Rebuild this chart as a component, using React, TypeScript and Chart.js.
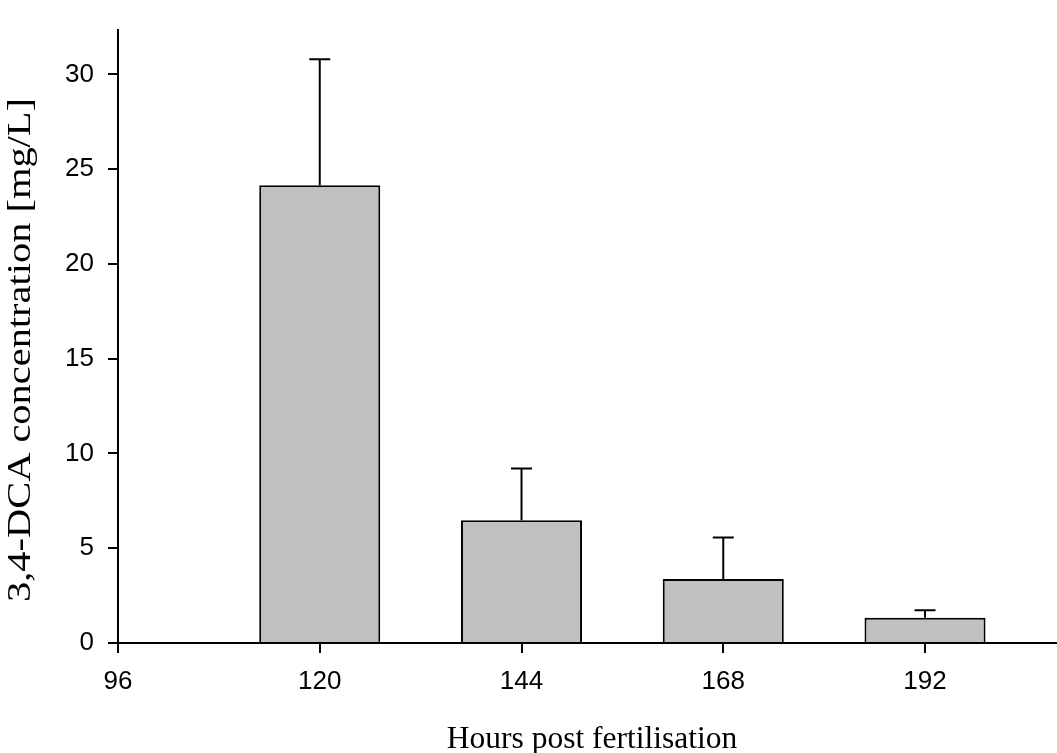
import React, { useEffect, useRef } from "react";
import { Chart, registerables } from "chart.js";

Chart.register(...registerables);

// Sampling times (hours post fertilisation) and measured concentrations
const hours = [120, 144, 168, 192];
const meanConc = [24.15, 6.47, 3.38, 1.33];
const sdConc = [6.64, 2.73, 2.19, 0.4];

const xTickValues = [96, 120, 144, 168, 192];
const yTickValues = [0, 5, 10, 15, 20, 25, 30];

const xTitle = "Hours post fertilisation";
const yTitle = "3,4-DCA concentration [mg/L]";

const SANS = "'Liberation Sans', Arial, sans-serif";
const SERIF = "'Liberation Serif', 'Times New Roman', serif";

// Upward-only error bars with a short cap
const errorBarPlugin = {
  id: "errorBars",
  afterDatasetsDraw(chart: any) {
    const { ctx, scales } = chart;
    const xs = scales.x;
    const ys = scales.y;
    ctx.save();
    ctx.strokeStyle = "#000";
    ctx.lineWidth = 2;
    hours.forEach((h, i) => {
      const x = xs.getPixelForValue(h);
      const y0 = ys.getPixelForValue(meanConc[i]);
      const y1 = ys.getPixelForValue(meanConc[i] + sdConc[i]);
      ctx.beginPath();
      ctx.moveTo(x, y0);
      ctx.lineTo(x, y1);
      ctx.moveTo(x - 10.5, y1);
      ctx.lineTo(x + 10.5, y1);
      ctx.stroke();
    });
    ctx.restore();
  },
};

// Axis titles: serif, the vertical one stretched along its length
const axisTitlePlugin = {
  id: "axisTitles",
  afterDraw(chart: any) {
    const { ctx } = chart;
    ctx.save();
    ctx.fillStyle = "#000";
    ctx.font = `31.5px ${SERIF}`;
    ctx.textAlign = "center";
    ctx.textBaseline = "alphabetic";
    ctx.fillText(xTitle, 592, 748);
    ctx.restore();

    ctx.save();
    ctx.fillStyle = "#000";
    ctx.font = `33px ${SERIF}`;
    ctx.textAlign = "center";
    ctx.textBaseline = "alphabetic";
    const w = ctx.measureText(yTitle).width;
    ctx.translate(30, 350);
    ctx.rotate(-Math.PI / 2);
    ctx.scale(504 / w, 1);
    ctx.fillText(yTitle, 0, 0);
    ctx.restore();
  },
};

export default function App() {
  const canvasRef = useRef<HTMLCanvasElement | null>(null);

  useEffect(() => {
    const canvas = canvasRef.current;
    if (!canvas) return;
    const chart = new Chart(canvas, {
      type: "bar",
      data: {
        datasets: [
          {
            data: hours.map((h, i) => ({ x: h, y: meanConc[i] })),
            backgroundColor: "#c0c0c0",
            borderColor: "#000",
            borderWidth: 2,
            borderSkipped: "start",
            barPercentage: 0.6,
            categoryPercentage: 1.0,
          },
        ],
      },
      options: {
        responsive: false,
        animation: false,
        layout: { padding: { top: 11, right: 0, bottom: 0, left: 0 } },
        plugins: {
          legend: { display: false },
          tooltip: { enabled: false },
        },
        scales: {
          x: {
            type: "linear",
            offset: false,
            min: 96,
            max: 207.7,
            afterBuildTicks: (scale: any) => {
              scale.ticks = xTickValues.map((v) => ({ value: v }));
            },
            afterFit: (scale: any) => {
              scale.height = 110;
            },
            border: { display: true, color: "#000", width: 2 },
            grid: {
              display: true,
              offset: false,
              drawOnChartArea: false,
              drawTicks: true,
              tickLength: 10,
              color: "#000",
              lineWidth: 2,
            },
            ticks: {
              color: "#000",
              font: { family: SANS, size: 26 },
              padding: 13,
              maxRotation: 0,
              autoSkip: false,
            },
          },
          y: {
            type: "linear",
            min: 0,
            max: 32.36,
            afterBuildTicks: (scale: any) => {
              scale.ticks = yTickValues.map((v) => ({ value: v }));
            },
            afterFit: (scale: any) => {
              scale.width = 118;
            },
            border: { display: true, color: "#000", width: 2 },
            grid: {
              display: true,
              drawOnChartArea: false,
              drawTicks: true,
              tickLength: 10,
              color: "#000",
              lineWidth: 2,
            },
            ticks: {
              color: "#000",
              font: { family: SANS, size: 26 },
              padding: 14,
              autoSkip: false,
            },
          },
        },
      },
      plugins: [errorBarPlugin, axisTitlePlugin],
    });
    return () => chart.destroy();
  }, []);

  return (
    <div style={{ position: "fixed", left: 0, top: 0, width: 1057, height: 753, background: "#fff" }}>
      <canvas ref={canvasRef} width={1057} height={753} style={{ display: "block" }} />
    </div>
  );
}
